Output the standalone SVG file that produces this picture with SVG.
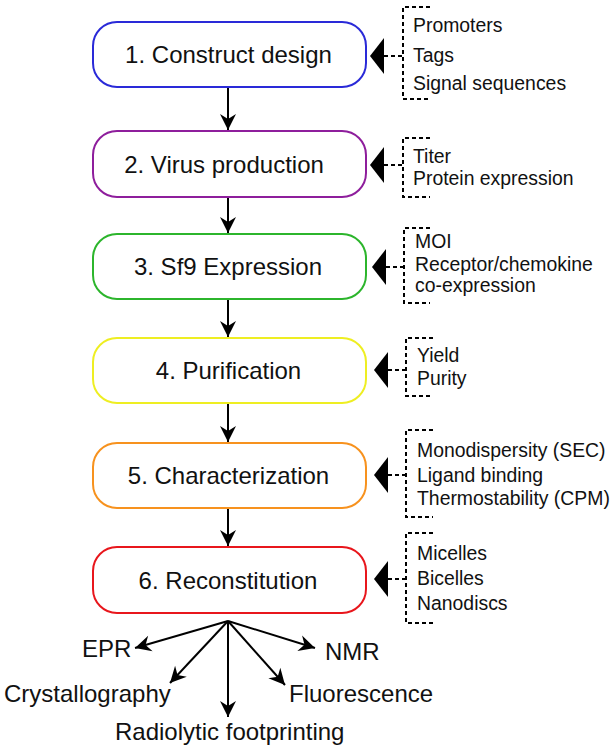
<svg xmlns="http://www.w3.org/2000/svg" width="613" height="750" viewBox="0 0 613 750">
<defs>
<style>
.box{fill:#fff;stroke-width:2}
.t{font-family:"Liberation Sans",Arial,sans-serif;font-size:24px;fill:#111}
.s{font-family:"Liberation Sans",Arial,sans-serif;font-size:19.4px;fill:#111}
.ln{stroke:#000;stroke-width:2;fill:none}
.ds{stroke:#000;stroke-width:2;fill:none;stroke-dasharray:4,3}
.tri{fill:#000}
</style>
<marker id="ah" markerUnits="userSpaceOnUse" markerWidth="20" markerHeight="20" viewBox="-17 -10 19 20" refX="0" refY="0" orient="auto">
<path d="M0,0 L-16,-8 L-11,0 L-16,8 Z" fill="#000"/>
</marker>
</defs>
<rect width="613" height="750" fill="#fff"/>

<g id="connectors">
<line class="ln" x1="228" y1="87" x2="228" y2="130" marker-end="url(#ah)"/>
<line class="ln" x1="228" y1="197" x2="228" y2="233" marker-end="url(#ah)"/>
<line class="ln" x1="228" y1="299" x2="228" y2="337" marker-end="url(#ah)"/>
<line class="ln" x1="228" y1="403" x2="228" y2="442" marker-end="url(#ah)"/>
<line class="ln" x1="228" y1="508" x2="228" y2="546" marker-end="url(#ah)"/>
<line class="ln" x1="228" y1="621" x2="135" y2="648" marker-end="url(#ah)"/>
<line class="ln" x1="228" y1="621" x2="170" y2="683" marker-end="url(#ah)"/>
<line class="ln" x1="228" y1="621" x2="228" y2="717" marker-end="url(#ah)"/>
<line class="ln" x1="228" y1="621" x2="285" y2="685" marker-end="url(#ah)"/>
<line class="ln" x1="228" y1="621" x2="315" y2="648" marker-end="url(#ah)"/>
</g>

<g id="n1">
<rect class="box" x="93" y="22" width="273" height="65" rx="24" stroke="#2a2ad8"/>
<text class="t" x="228.5" y="63" text-anchor="middle">1. Construct design</text>
</g>
<g id="n2">
<rect class="box" x="93" y="131" width="273" height="66" rx="24" stroke="#8e1e9c"/>
<text class="t" x="224" y="172.5" text-anchor="middle">2. Virus production</text>
</g>
<g id="n3">
<rect class="box" x="93" y="234" width="273" height="65" rx="24" stroke="#2cb52c"/>
<text class="t" x="228" y="275" text-anchor="middle">3. Sf9 Expression</text>
</g>
<g id="n4">
<rect class="box" x="93" y="338" width="273" height="65" rx="24" stroke="#eeee22"/>
<text class="t" x="228.5" y="379" text-anchor="middle">4. Purification</text>
</g>
<g id="n5">
<rect class="box" x="93" y="443" width="273" height="65" rx="24" stroke="#f7921e"/>
<text class="t" x="228.5" y="484" text-anchor="middle">5. Characterization</text>
</g>
<g id="n6">
<rect class="box" x="93" y="547" width="273" height="66" rx="24" stroke="#e8161c"/>
<text class="t" x="228" y="588.5" text-anchor="middle">6. Reconstitution</text>
</g>

<g id="side1">
<path class="tri" d="M370,56 L384,38 L384,74 Z"/>
<path class="ds" d="M384,56 H403 M430,7 H403 V99 H430"/>
<text class="s" x="413" y="32">Promoters</text>
<text class="s" x="413" y="62">Tags</text>
<text class="s" x="413" y="90">Signal sequences</text>
</g>
<g id="side2">
<path class="tri" d="M370,165 L384,147 L384,183 Z"/>
<path class="ds" d="M384,165 H403 M430,138 H403 V197 H430"/>
<text class="s" x="413" y="163">Titer</text>
<text class="s" x="413" y="185">Protein expression</text>
</g>
<g id="side3">
<path class="tri" d="M372,267 L386,249 L386,285 Z"/>
<path class="ds" d="M386,267 H404 M430,228 H404 V303 H430"/>
<text class="s" x="415" y="248">MOI</text>
<text class="s" x="415" y="271">Receptor/chemokine</text>
<text class="s" x="415" y="292">co-expression</text>
</g>
<g id="side4">
<path class="tri" d="M374,370 L388,352 L388,388 Z"/>
<path class="ds" d="M388,370 H406 M433,338 H406 V396 H433"/>
<text class="s" x="417" y="362">Yield</text>
<text class="s" x="417" y="385">Purity</text>
</g>
<g id="side5">
<path class="tri" d="M374,475 L388,457 L388,493 Z"/>
<path class="ds" d="M388,475 H406 M433,430 H406 V517 H433"/>
<text class="s" x="417" y="457">Monodispersity (SEC)</text>
<text class="s" x="417" y="482">Ligand binding</text>
<text class="s" x="417" y="505">Thermostability (CPM)</text>
</g>
<g id="side6">
<path class="tri" d="M374,579 L388,561 L388,597 Z"/>
<path class="ds" d="M388,579 H406 M433,533 H406 V623 H433"/>
<text class="s" x="417" y="560">Micelles</text>
<text class="s" x="417" y="585">Bicelles</text>
<text class="s" x="417" y="610">Nanodiscs</text>
</g>

<g id="outputs">
<text class="t" x="82" y="657">EPR</text>
<text class="t" x="4" y="702">Crystallography</text>
<text class="t" x="115" y="740">Radiolytic footprinting</text>
<text class="t" x="289" y="702">Fluorescence</text>
<text class="t" x="325" y="660">NMR</text>
</g>
</svg>
